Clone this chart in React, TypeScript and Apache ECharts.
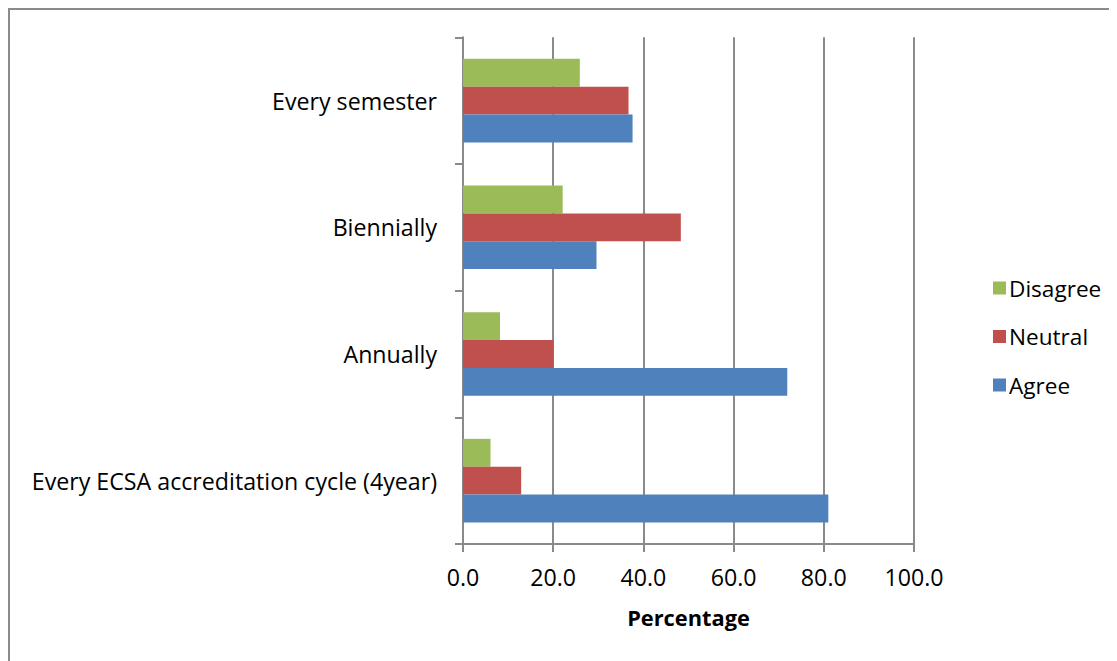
import React, { useEffect, useRef } from "react";
import * as echarts from "echarts";

const categories = [
  "Every ECSA accreditation cycle (4year)",
  "Annually",
  "Biennially",
  "Every semester",
];
const agree = [81.0, 71.9, 29.6, 37.6];
const neutral = [12.9, 20.1, 48.3, 36.7];
const disagree = [6.1, 8.2, 22.1, 25.9];
const xTicks = [0, 20, 40, 60, 80, 100];

const FONT = "Open Sans";
const FS = 23.2;
const GRAY = "#8a8a8a";

export default function App() {
  const ref = useRef<HTMLDivElement>(null);
  useEffect(() => {
    if (!ref.current) return;
    const chart = echarts.init(ref.current, undefined, { renderer: "svg" });
    chart.setOption({
      animation: false,
      textStyle: { fontFamily: FONT },
      graphic: [
        { type: "line", shape: { x1: 0, y1: 1, x2: 1109, y2: 1 }, style: { stroke: GRAY, lineWidth: 2 } },
        { type: "line", shape: { x1: 1, y1: 0, x2: 1, y2: 653 }, style: { stroke: GRAY, lineWidth: 2 } },
      ],
      grid: { left: 455, right: 203, top: 29.3, bottom: 117, containLabel: false },
      legend: {
        orient: "vertical",
        left: 980,
        top: 263,
        itemWidth: 13,
        itemHeight: 13,
        itemGap: 24.5,
        icon: "rect",
        data: ["Disagree", "Neutral", "Agree"],
        textStyle: { fontFamily: FONT, fontSize: 22.6, color: "#000", lineHeight: 24, padding: [0, 0, 0, -2] },
      },
      xAxis: {
        type: "value",
        min: xTicks[0],
        max: xTicks[xTicks.length - 1],
        interval: 20,
        name: "Percentage",
        nameLocation: "middle",
        nameGap: 62,
        nameTextStyle: { fontFamily: FONT, fontSize: 21.8, fontWeight: "bold", color: "#000" },
        axisLine: { show: true, lineStyle: { color: GRAY, width: 2 } },
        axisTick: { show: true, length: 8, lineStyle: { color: GRAY, width: 2 } },
        axisLabel: {
          margin: 21,
          fontFamily: FONT,
          fontSize: FS,
          color: "#000",
          formatter: (v: number) => v.toFixed(1),
        },
        splitLine: { show: true, lineStyle: { color: GRAY, width: 2 } },
      },
      yAxis: {
        type: "category",
        data: categories,
        axisLine: { show: true, lineStyle: { color: GRAY, width: 2 } },
        axisTick: { show: true, length: 8, alignWithLabel: false, lineStyle: { color: GRAY, width: 2 } },
        axisLabel: { margin: 26, fontFamily: FONT, fontSize: FS, color: "#000" },
        splitLine: { show: false },
      },
      series: [
        { name: "Disagree", type: "bar", data: disagree, itemStyle: { color: "#9BBB59" }, barGap: "0%", barCategoryGap: "34%" },
        { name: "Neutral", type: "bar", data: neutral, itemStyle: { color: "#C0504D" }, barGap: "0%", barCategoryGap: "34%" },
        { name: "Agree", type: "bar", data: agree, itemStyle: { color: "#4F81BD" }, barGap: "0%", barCategoryGap: "34%" },
      ],
    });
    return () => chart.dispose();
  }, []);
  return <div ref={ref} style={{ width: 1109, height: 653, background: "#fff" }} />;
}
